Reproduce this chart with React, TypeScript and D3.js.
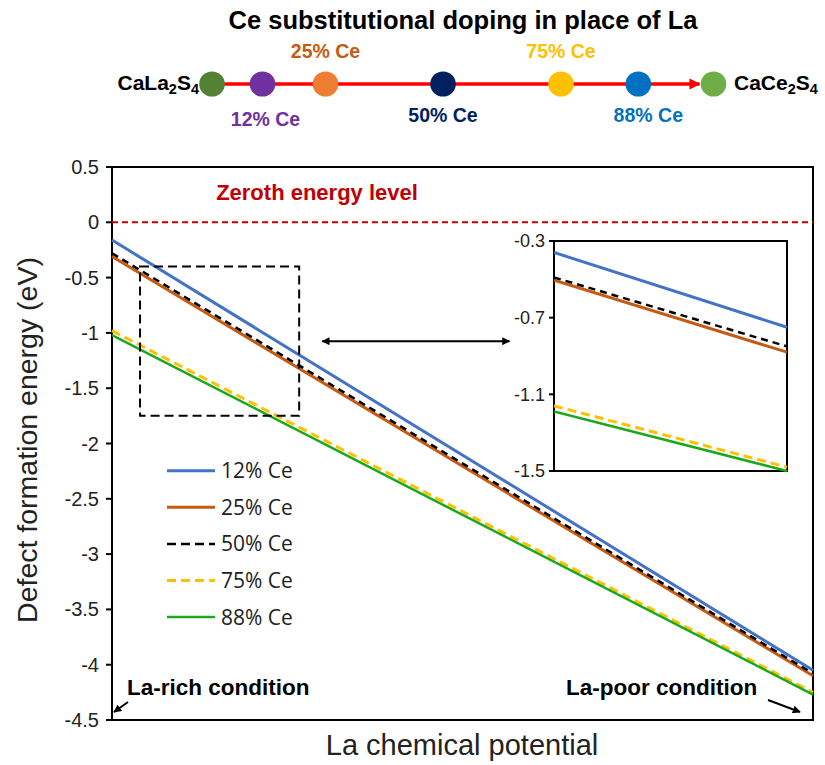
import React from "react";
import * as d3 from "d3";

// Relative La chemical potential: 0 = La-rich, 1 = La-poor
const potential = [0, 1];

// Defect formation energy (eV) along the chemical-potential range
const seriesNames = ["12% Ce", "25% Ce", "50% Ce", "75% Ce", "88% Ce"];
const ce12 = [-0.16, -4.05];
const ce25 = [-0.31, -4.1];
const ce50 = [-0.28, -4.08];
const ce75 = [-0.98, -4.25];
const ce88 = [-1.02, -4.27];

// Magnified view near the La-rich end
const insetPotential = [0, 1];
const inset12 = [-0.36, -0.75];
const inset25 = [-0.505, -0.88];
const inset50 = [-0.49, -0.85];
const inset75 = [-1.16, -1.48];
const inset88 = [-1.19, -1.5];

const yTicks = [0.5, 0, -0.5, -1, -1.5, -2, -2.5, -3, -3.5, -4, -4.5];
const insetTicks = [-0.3, -0.7, -1.1, -1.5];
const zeroLevel = 0;

// Region that the inset magnifies (potential, energy)
const zoomBoxX = [0.04, 0.267];
const zoomBoxY = [-0.4, -1.75];
const zoomArrowX = [0.3, 0.567];
const zoomArrowY = -1.075;

// Doping path (Ce %)
const dopingLevels = [0, 12, 25, 50, 75, 88, 100];
const dopingLabels = ["", "12% Ce", "25% Ce", "50% Ce", "75% Ce", "88% Ce", ""];

const seriesStyles = [
  { color: "#4472C4", dash: null, width: 3 },
  { color: "#C55A11", dash: null, width: 3 },
  { color: "#000000", dash: "7,5", width: 2.5 },
  { color: "#FFC000", dash: "9,5", width: 3 },
  { color: "#1CA81C", dash: null, width: 2.5 },
];
const dopingColors = ["#548235", "#7030A0", "#ED7D31", "#002060", "#FFC000", "#0070C0", "#70AD47"];
const dopingTextColors = ["", "#7030A0", "#C55A11", "#002060", "#FFC000", "#0070C0", ""];

export default function App() {
  const W = 825;
  const H = 765;
  const plot = { left: 112, right: 813, top: 167, bottom: 720 };
  const inset = { left: 554, right: 787, top: 241, bottom: 471 };

  const x = d3.scaleLinear().domain([0, 1]).range([plot.left, plot.right]);
  const y = d3.scaleLinear().domain([0.5, -4.5]).range([plot.top, plot.bottom]);
  const xi = d3.scaleLinear().domain([0, 1]).range([inset.left, inset.right]);
  const yi = d3.scaleLinear().domain([-0.3, -1.5]).range([inset.top, inset.bottom]);

  const mainSeries = [ce12, ce25, ce50, ce75, ce88];
  const insetSeries = [inset12, inset25, inset50, inset75, inset88];

  const mainLine = d3
    .line<number>()
    .x((_, i) => x(potential[i]))
    .y((d) => y(d));
  const insetLine = d3
    .line<number>()
    .x((_, i) => xi(insetPotential[i]))
    .y((d) => yi(d));

  // Schematic doping path positions
  const dx = d3
    .scaleLinear()
    .domain(dopingLevels)
    .range([212, 262.5, 325.5, 443, 561, 638.3, 713.5]);
  const pathY = 84;

  const font = "'Liberation Sans', Arial, sans-serif";
  const legendFont = "'Open Sans', 'Noto Sans', sans-serif";

  return (
    <svg
      width={W}
      height={H}
      style={{ position: "absolute", left: 0, top: 0, background: "#fff" }}
      fontFamily={font}
    >
      <defs>
        <marker id="ah" viewBox="0 0 10 10" refX="9" refY="5" markerWidth="4" markerHeight="4" orient="auto-start-reverse">
          <path d="M0,0 L10,5 L0,10 z" fill="#000" />
        </marker>
        <marker id="ahRed" viewBox="0 0 10 10" refX="9" refY="5" markerWidth="3.2" markerHeight="3.2" orient="auto">
          <path d="M0,0 L10,5 L0,10 z" fill="#FF0000" />
        </marker>
        <clipPath id="insetClip">
          <rect x={inset.left} y={inset.top - 2} width={inset.right - inset.left + 2} height={inset.bottom - inset.top + 4} />
        </clipPath>
      </defs>

      {/* Doping schematic */}
      <text x={463} y={29} textAnchor="middle" fontWeight="bold" fontSize={25.5}>
        Ce substitutional doping in place of La
      </text>
      <line x1={dx(0)} x2={dx(100) - 14} y1={pathY} y2={pathY} stroke="#FF0000" strokeWidth={3.5} markerEnd="url(#ahRed)" />
      {dopingLevels.map((lv, i) => (
        <ellipse key={lv} cx={dx(lv)} cy={pathY} rx={12.8} ry={12.6} fill={dopingColors[i]} />
      ))}
      {dopingLevels.map((lv, i) => {
        if (!dopingLabels[i]) return null;
        const above = i === 2 || i === 4;
        const yy = above ? 58 : i === 1 ? 126 : 122;
        const xx = dx(lv) + (i === 5 ? 10 : i === 1 ? 3 : 0);
        return (
          <text key={"l" + lv} x={xx} y={yy} textAnchor="middle" fontWeight="bold" fontSize={19.5} fill={dopingTextColors[i]}>
            {dopingLabels[i]}
          </text>
        );
      })}
      <text x={199} y={90} textAnchor="end" fontWeight="bold" fontSize={21}>
        CaLa<tspan fontSize={14.5} dy={4}>2</tspan>
        <tspan dy={-4}>S</tspan>
        <tspan fontSize={14.5} dy={4}>4</tspan>
      </text>
      <text x={734} y={90} textAnchor="start" fontWeight="bold" fontSize={21}>
        CaCe<tspan fontSize={14.5} dy={4}>2</tspan>
        <tspan dy={-4}>S</tspan>
        <tspan fontSize={14.5} dy={4}>4</tspan>
      </text>

      {/* Main plot frame and axis */}
      <rect x={plot.left} y={plot.top} width={plot.right - plot.left} height={plot.bottom - plot.top} fill="none" stroke="#000" strokeWidth={2} />
      {yTicks.map((t) => (
        <g key={t}>
          <line x1={plot.left - 6} x2={plot.left} y1={y(t)} y2={y(t)} stroke="#000" strokeWidth={2} />
          <text x={plot.left - 13} y={y(t)} dy="0.35em" textAnchor="end" fontSize={20} fill="#222">
            {String(t)}
          </text>
        </g>
      ))}

      {/* Zeroth energy level */}
      <line x1={plot.left} x2={plot.right} y1={y(zeroLevel)} y2={y(zeroLevel)} stroke="#C00000" strokeWidth={2} strokeDasharray="6,4" />
      <text x={317} y={200} textAnchor="middle" fontWeight="bold" fontSize={22} fill="#C00000">
        Zeroth energy level
      </text>

      {/* Series lines */}
      {mainSeries.map((s, i) => (
        <path
          key={seriesNames[i]}
          d={mainLine(s) || ""}
          fill="none"
          stroke={seriesStyles[i].color}
          strokeWidth={seriesStyles[i].width}
          strokeDasharray={seriesStyles[i].dash || undefined}
        />
      ))}

      {/* Magnified region marker */}
      <rect
        x={x(zoomBoxX[0])}
        y={y(zoomBoxY[0])}
        width={x(zoomBoxX[1]) - x(zoomBoxX[0])}
        height={y(zoomBoxY[1]) - y(zoomBoxY[0])}
        fill="none"
        stroke="#000"
        strokeWidth={2}
        strokeDasharray="9,5"
      />
      <line
        x1={x(zoomArrowX[0])}
        x2={x(zoomArrowX[1])}
        y1={y(zoomArrowY)}
        y2={y(zoomArrowY)}
        stroke="#000"
        strokeWidth={2}
        markerStart="url(#ah)"
        markerEnd="url(#ah)"
      />

      {/* Inset */}
      <rect x={inset.left} y={inset.top} width={inset.right - inset.left} height={inset.bottom - inset.top} fill="#fff" stroke="#000" strokeWidth={2} />
      {insetTicks.map((t) => (
        <g key={"i" + t}>
          <line x1={inset.left - 5} x2={inset.left} y1={yi(t)} y2={yi(t)} stroke="#000" strokeWidth={2} />
          <text x={inset.left - 9} y={yi(t)} dy="0.35em" textAnchor="end" fontSize={18} fill="#222">
            {String(t)}
          </text>
        </g>
      ))}
      <g clipPath="url(#insetClip)">
        {insetSeries.map((s, i) => (
          <path
            key={"in" + seriesNames[i]}
            d={insetLine(s) || ""}
            fill="none"
            stroke={seriesStyles[i].color}
            strokeWidth={seriesStyles[i].width}
            strokeDasharray={seriesStyles[i].dash || undefined}
          />
        ))}
      </g>

      {/* Legend */}
      {seriesNames.map((name, i) => {
        const ly = 470.7 + i * 36.6;
        return (
          <g key={"lg" + name}>
            <line
              x1={167}
              x2={215}
              y1={ly}
              y2={ly}
              stroke={seriesStyles[i].color}
              strokeWidth={seriesStyles[i].width}
              strokeDasharray={seriesStyles[i].dash ? "9,5" : undefined}
            />
            <text x={221} y={ly} dy="0.36em" fontSize={21} fontFamily={legendFont} fill="#222">
              {name}
            </text>
          </g>
        );
      })}

      {/* Chemical-potential limits */}
      <text x={127} y={695} fontWeight="bold" fontSize={22.5}>
        La-rich condition
      </text>
      <line x1={128} x2={114} y1={702} y2={712} stroke="#000" strokeWidth={2} markerEnd="url(#ah)" />
      <text x={566} y={695} fontWeight="bold" fontSize={22.5}>
        La-poor condition
      </text>
      <line x1={768} x2={800} y1={700} y2={712} stroke="#000" strokeWidth={2} markerEnd="url(#ah)" />

      {/* Axis titles */}
      <text x={462} y={755} textAnchor="middle" fontSize={29} fill="#222">
        La chemical potential
      </text>
      <text transform="translate(27,440) rotate(-90)" textAnchor="middle" dy="0.35em" fontSize={28.5} fill="#222">
        Defect formation energy (eV)
      </text>
    </svg>
  );
}
